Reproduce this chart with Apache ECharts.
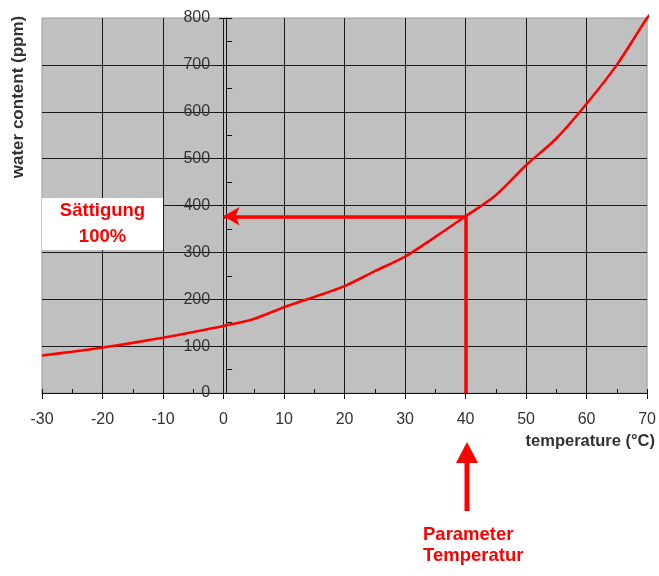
<!DOCTYPE html>
<html>
<head>
<meta charset="utf-8">
<script src="https://cdn.jsdelivr.net/npm/echarts@6/dist/echarts.min.js"></script>
<style>
html,body{margin:0;padding:0;background:#fff;}
#chart{width:659px;height:576px;}
</style>
</head>
<body>
<div id="chart"></div>
<script>
// Data
var temperatures = [-30, -25, -20, -15, -10, -5, 0, 5, 10, 15, 20, 25, 30, 35, 40, 45, 50, 55, 60, 65, 70, 70.7];
var waterContent = [80, 88, 97, 107, 118, 130, 143, 158, 183, 205, 228, 260, 291, 333, 377, 422, 486, 543, 617, 700, 800, 810];
var paramTemp = 40;
var paramWater = 377;
var boxFrom = [-30, 305];
var boxTo = [-10, 416];
var xTicks = { min: -30, max: 70, step: 10 };
var yTicks = { min: 0, max: 800, step: 100 };
var xAxisTitle = 'temperature (°C)';
var yAxisTitle = 'water content (ppm)';
var boxText = 'Sättigung\n100%';
var paramText = 'Parameter\nTemperatur';

var curve = temperatures.map(function (t, i) { return [t, waterContent[i]]; });
var RED = '#ff0000';
var LABEL_FONT = 'Arial, "Liberation Sans", sans-serif';
var GRID_LEFT = 42;

var chart = echarts.init(document.getElementById('chart'), null, { renderer: 'canvas' });

function yAxes(offset) {
  return [
    {
      type: 'value', min: yTicks.min, max: yTicks.max, interval: yTicks.step,
      position: 'left', offset: offset,
      axisLine: { show: true, onZero: false, lineStyle: { color: '#111', width: 1 } },
      axisTick: { show: true, inside: false, length: 7, lineStyle: { color: '#111' } },
      axisLabel: { color: '#333', fontSize: 16, margin: 16, fontFamily: LABEL_FONT },
      splitLine: { show: true, showMinLine: false, showMaxLine: false, lineStyle: { color: '#1a1a1a', width: 1 } }
    },
    {
      type: 'value', min: yTicks.min, max: yTicks.max, interval: yTicks.step / 2,
      position: 'left', offset: offset,
      axisLine: { show: false, onZero: false },
      axisTick: { show: true, inside: true, length: 6, lineStyle: { color: '#111' } },
      axisLabel: { show: false },
      splitLine: { show: false }
    }
  ];
}

var option = {
  animation: false,
  backgroundColor: '#ffffff',
  grid: {
    left: GRID_LEFT, right: 8, top: 18, bottom: 183,
    show: true, backgroundColor: '#c0c0c0', borderColor: '#9a9a9a', borderWidth: 1
  },
  xAxis: [
    {
      type: 'value', min: xTicks.min, max: xTicks.max, interval: xTicks.step,
      position: 'bottom',
      axisLine: { show: true, onZero: false, lineStyle: { color: '#111', width: 1 } },
      axisTick: { show: true, inside: false, length: 6, lineStyle: { color: '#111' } },
      axisLabel: { color: '#333', fontSize: 16, margin: 19, fontFamily: LABEL_FONT },
      splitLine: { show: true, showMinLine: false, showMaxLine: false, lineStyle: { color: '#1a1a1a', width: 1 } }
    },
    {
      type: 'value', min: xTicks.min, max: xTicks.max, interval: xTicks.step / 2,
      position: 'bottom',
      axisLine: { show: false, onZero: false },
      axisTick: { show: true, inside: true, length: 4, lineStyle: { color: '#111' } },
      axisLabel: { show: false },
      splitLine: { show: false }
    }
  ],
  yAxis: yAxes(0),
  series: [
    {
      type: 'line',
      name: 'saturation',
      data: curve,
      xAxisIndex: 0, yAxisIndex: 0,
      smooth: 0.3,
      clip: false,
      showSymbol: false,
      symbol: 'none',
      silent: true,
      lineStyle: { color: RED, width: 2.6 },
      markArea: {
        silent: true,
        itemStyle: { color: '#ffffff', opacity: 1 },
        label: {
          show: true, position: 'inside', color: RED, fontWeight: 'bold',
          fontSize: 18.5, lineHeight: 26, fontFamily: LABEL_FONT, align: 'center'
        },
        data: [[{ coord: boxFrom, name: boxText }, { coord: boxTo }]]
      },
      markLine: {
        silent: true,
        animation: false,
        label: { show: false },
        lineStyle: { color: RED, width: 3.5, type: 'solid' },
        emphasis: { disabled: true },
        data: [
          [{ coord: [paramTemp, paramWater], symbol: 'none' }, { coord: [0, paramWater], symbol: 'arrow', symbolSize: [14, 16] }],
          [{ coord: [paramTemp, paramWater], symbol: 'none' }, { coord: [paramTemp, 0], symbol: 'none' }]
        ]
      }
    }
  ]
};
chart.setOption(option);

// Move the value axis to x = 0 (it crosses the plot there)
var zeroPx = chart.convertToPixel({ xAxisIndex: 0, yAxisIndex: 0 }, [0, 0]);
chart.setOption({ yAxis: yAxes(-(zeroPx[0] - GRID_LEFT)) });

// Annotations outside the plot, anchored to the axis scale
var px = chart.convertToPixel({ xAxisIndex: 0, yAxisIndex: 0 }, [paramTemp, 0]);
var ax = Math.round(px[0]) + 1;
var baseY = px[1];
chart.setOption({
  graphic: [
    {
      type: 'text', x: 18, y: 97, rotation: Math.PI / 2,
      style: { text: yAxisTitle, fill: '#333', font: 'bold 17px ' + LABEL_FONT, textAlign: 'center', textVerticalAlign: 'middle' }
    },
    {
      type: 'text', x: 655, y: 441,
      style: { text: xAxisTitle, fill: '#333', font: 'bold 16.5px ' + LABEL_FONT, textAlign: 'right', textVerticalAlign: 'middle' }
    },
    {
      type: 'line', shape: { x1: ax, y1: baseY + 118, x2: ax, y2: baseY + 66 },
      style: { stroke: RED, lineWidth: 5 }
    },
    {
      type: 'polygon', shape: { points: [[ax - 11, baseY + 70], [ax + 11, baseY + 70], [ax, baseY + 49]] },
      style: { fill: RED }
    },
    {
      type: 'text', x: ax - 44, y: baseY + 152,
      style: { text: paramText, fill: RED, font: 'bold 18.5px ' + LABEL_FONT, lineHeight: 21, textAlign: 'left', textVerticalAlign: 'middle' }
    }
  ]
});
</script>
</body>
</html>
